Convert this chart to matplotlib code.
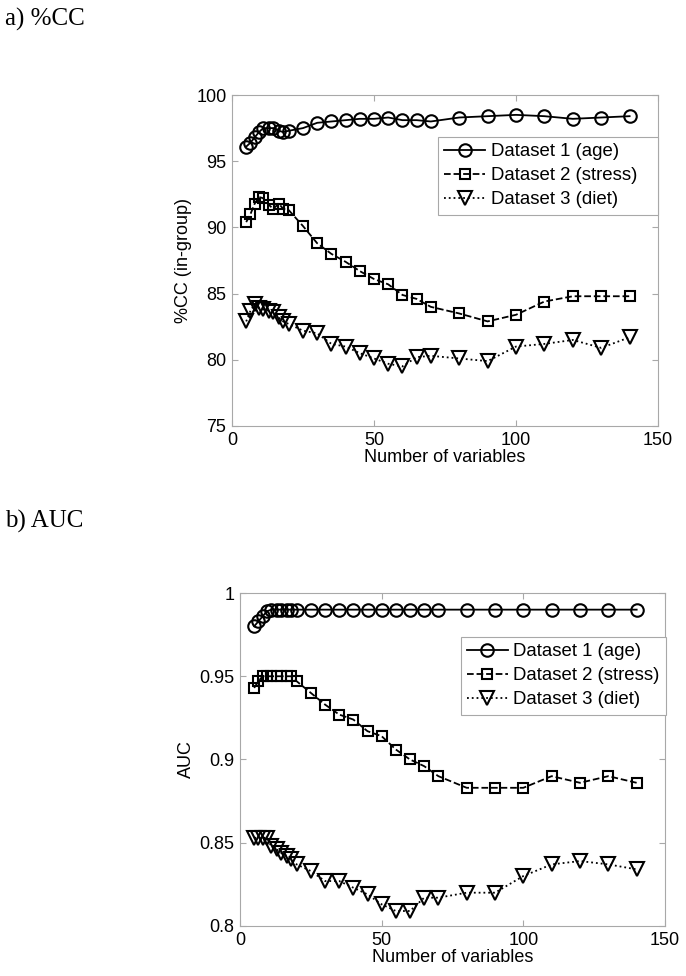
import matplotlib
matplotlib.use("Agg")
import matplotlib.pyplot as plt
from matplotlib.ticker import FixedLocator, FixedFormatter

# ---------------- data ----------------
n_vars = [5, 6.5, 8, 9.5, 11, 13, 14.5, 16.5, 18, 20,
          25, 30, 35, 40, 45, 50, 55, 60, 65, 70,
          80, 90, 100, 110, 120, 130, 140]

cc_age = [96.1, 96.4, 96.8, 97.2, 97.5, 97.5, 97.5, 97.3, 97.2, 97.3,
          97.5, 97.9, 98.0, 98.1, 98.2, 98.2, 98.3, 98.1, 98.1, 98.0,
          98.3, 98.4, 98.5, 98.4, 98.2, 98.3, 98.4]
cc_stress = [90.4, 91.0, 91.8, 92.3, 92.2, 91.7, 91.4, 91.8, 91.4, 91.3,
             90.1, 88.8, 88.0, 87.4, 86.7, 86.1, 85.7, 84.9, 84.6, 84.0,
             83.5, 82.9, 83.4, 84.4, 84.8, 84.8, 84.8]
cc_diet = [82.9, 83.7, 84.2, 83.9, 83.8, 83.7, 83.6, 83.2, 82.9, 82.7,
           82.2, 82.0, 81.2, 81.0, 80.5, 80.1, 79.7, 79.5, 80.2, 80.3,
           80.1, 79.9, 81.0, 81.2, 81.5, 80.9, 81.7]

auc_age = [0.980, 0.983, 0.986, 0.989, 0.990, 0.990, 0.990, 0.990, 0.990, 0.990,
           0.990, 0.990, 0.990, 0.990, 0.990, 0.990, 0.990, 0.990, 0.990, 0.990,
           0.990, 0.990, 0.990, 0.990, 0.990, 0.990, 0.990]
auc_stress = [0.943, 0.947, 0.950, 0.950, 0.950, 0.950, 0.950, 0.950, 0.950, 0.947,
              0.940, 0.933, 0.927, 0.924, 0.917, 0.914, 0.906, 0.900, 0.896, 0.890,
              0.883, 0.883, 0.883, 0.890, 0.886, 0.890, 0.886]
auc_diet = [0.853, 0.853, 0.853, 0.853, 0.848, 0.846, 0.844, 0.842, 0.840, 0.837,
            0.833, 0.827, 0.827, 0.823, 0.819, 0.813, 0.809, 0.809, 0.817, 0.817,
            0.820, 0.820, 0.830, 0.837, 0.839, 0.837, 0.834]

series_labels = ["Dataset 1 (age)", "Dataset 2 (stress)", "Dataset 3 (diet)"]

cc_ticks = [75, 80, 85, 90, 95, 100]
cc_ticklabels = ["75", "80", "85", "90", "95", "100"]
auc_ticks = [0.8, 0.85, 0.9, 0.95, 1.0]
auc_ticklabels = ["0.8", "0.85", "0.9", "0.95", "1"]
x_ticks = [0, 50, 100, 150]
x_ticklabels = ["0", "50", "100", "150"]

# ---------------- style ----------------
plt.rcParams['font.family'] = ['Liberation Sans', 'DejaVu Sans']
W, H = 686, 976
fig = plt.figure(figsize=(W / 100, H / 100), dpi=100)

styles = [
    dict(linestyle='-', marker='o', markersize=9),
    dict(linestyle='--', marker='s', markersize=7.5),
    dict(linestyle=':', marker='v', markersize=9.5),
]
spine_col = '#a8a8a8'


def make_axes(rect, ys, yticks, yticklabels, ylim, ylabel):
    ax = fig.add_axes(rect)
    for y, st, lab in zip(ys, styles, series_labels):
        ax.plot(n_vars, y, color='black', linewidth=1.3,
                markerfacecolor='none', markeredgecolor='black',
                markeredgewidth=1.5, label=lab, **st)
    ax.set_xlim(0, 150)
    ax.set_ylim(*ylim)
    ax.xaxis.set_major_locator(FixedLocator(x_ticks))
    ax.xaxis.set_major_formatter(FixedFormatter(x_ticklabels))
    ax.yaxis.set_major_locator(FixedLocator(yticks))
    ax.yaxis.set_major_formatter(FixedFormatter(yticklabels))
    ax.tick_params(direction='in', length=4, width=0.8, color=spine_col,
                   top=True, right=True, labelsize=13, pad=4)
    for s in ax.spines.values():
        s.set_color(spine_col)
        s.set_linewidth(0.8)
    ax.set_xlabel("Number of variables", fontsize=13, labelpad=0)
    ax.set_ylabel(ylabel, fontsize=13, labelpad=3)
    return ax


def add_legend(ax, x0, width, top):
    leg = ax.legend(loc='upper left', bbox_to_anchor=(x0, top, width, 0),
                    mode='expand', borderaxespad=0, fontsize=13.4,
                    handlelength=2.2, handletextpad=0.3, labelspacing=0.38,
                    borderpad=0.33, fancybox=False, framealpha=1,
                    edgecolor=spine_col)
    leg.get_frame().set_linewidth(0.8)
    return leg


# top axes: left 232, right 658, top 95, bottom 426 (px)
ax1 = make_axes([232 / W, (H - 426) / H, 426 / W, 331 / H],
                [cc_age, cc_stress, cc_diet], cc_ticks, cc_ticklabels,
                (75, 100), "%CC (in-group)")
add_legend(ax1, (438 - 232) / 426, 220 / 426, 1 - 42 / 331)

# bottom axes: left 240, right 665, top 593, bottom 926 (px)
ax2 = make_axes([240 / W, (H - 926) / H, 425 / W, 333 / H],
                [auc_age, auc_stress, auc_diet], auc_ticks, auc_ticklabels,
                (0.8, 1.0), "AUC")
add_legend(ax2, (460.5 - 240) / 425, 205 / 425, 1 - 44 / 333)

fig.text(5 / W, 1 - 19 / H, "a) %CC", family=['Liberation Serif', 'DejaVu Serif'],
         fontsize=18, va='center', ha='left')
fig.text(5 / W, 1 - 521 / H, "b) AUC", family=['Liberation Serif', 'DejaVu Serif'],
         fontsize=18, va='center', ha='left')

fig.savefig("out.png", dpi=100, facecolor='white')
